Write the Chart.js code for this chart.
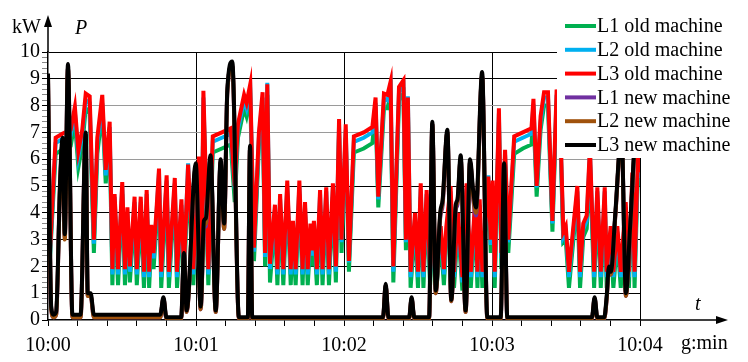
<!DOCTYPE html>
<html>
<head>
<meta charset="utf-8">
<script src="https://cdn.jsdelivr.net/npm/chart.js@4.4.0/dist/chart.umd.min.js"></script>
<style>
  body { margin: 0; background: #fff; }
  #wrap { width: 748px; height: 362px; }
</style>
</head>
<body>
<div id="wrap"><canvas id="powerChart" width="748" height="362"></canvas></div>
<script>
// time in seconds after 10:00
const oldTime = [0.8, 3.1, 5.8, 9.2, 10.9, 12.3, 13.9, 15.3, 16.9, 18.6, 20.0, 22.0, 23.4, 25.0, 26.1, 27.0, 28.4, 30.1, 31.2, 32.2,
  33.2, 35.1, 36.0, 37.6, 38.9, 40.0, 41.0, 41.9, 42.8, 43.6, 45.0, 45.9, 48.1, 49.0, 51.4, 52.3, 54.1, 55.1, 56.8, 58.9,
  61.2, 62.3, 63.0, 65.0, 66.8, 70.5, 74.1, 75.7, 77.0, 79.5, 80.5, 82.0, 83.5, 85.5, 87.0, 88.0, 88.9, 90.0, 92.0, 93.0,
  94.1, 95.4, 97.0, 98.4, 99.3, 100.4, 101.9, 103.2, 104.2, 105.3, 106.4, 107.1, 107.8, 109.0, 110.3, 111.3, 112.8, 113.9, 115.5, 116.7,
  118.0, 119.0, 120.7, 122.0, 124.0, 128.0, 131.5, 132.8, 133.9, 136.2, 137.6, 138.9, 140.0, 142.3, 144.1, 145.1, 145.9, 147.0, 148.8, 150.0,
  151.1, 152.2, 153.5, 154.9, 156.2, 157.6, 159.2, 160.5, 161.5, 163.2, 164.6, 166.2, 168.0, 169.7, 171.4, 173.1, 174.1, 175.0, 176.1, 178.5,
  179.5, 180.3, 181.1, 182.8, 183.8, 185.3, 186.6, 189.0, 192.5, 196.0, 196.8, 198.1, 199.7, 201.1, 202.7, 204.5, 206.2, 207.8, 208.9, 209.9,
  211.2, 213.0, 214.6, 215.7, 217.0, 218.4, 219.7, 221.4, 222.7, 224.1, 225.7, 226.5, 228.1, 229.2, 230.8, 232.2, 234.2, 235.5, 236.9, 237.8,
  239.2, 240];
const oldL3 = [2.5, 6.8, 6.95, 7.1, 7.95, 6.3, 7.1, 8.45, 8.35, 3.0, 6.8, 8.4, 5.6, 7.4, 1.9, 4.7, 1.9, 5.15, 1.9, 4.2,
  2.0, 4.6, 1.9, 4.6, 1.8, 4.85, 1.8, 3.55, 2.5, 3.55, 5.65, 1.8, 5.4, 1.8, 5.3, 1.8, 4.5, 1.9, 5.8, 1.9,
  6.1, 2.5, 8.55, 1.9, 6.85, 7.0, 7.15, 5.0, 7.3, 8.4, 8.1, 8.8, 2.7, 7.0, 8.5, 2.5, 8.8, 2.1, 4.3, 1.9,
  4.7, 1.9, 5.2, 1.9, 3.7, 1.9, 5.2, 1.9, 4.4, 1.9, 3.6, 2.6, 3.7, 1.9, 4.85, 1.9, 4.95, 1.9, 5.1, 2.0,
  7.5, 3.0, 7.3, 2.2, 6.85, 7.0, 7.2, 8.3, 4.6, 8.45, 8.4, 8.9, 2.0, 8.7, 8.95, 3.0, 8.3, 1.8, 4.0, 1.8,
  5.1, 1.8, 4.85, 1.9, 3.9, 1.9, 3.5, 1.9, 3.5, 5.0, 1.8, 4.0, 1.6, 5.1, 1.8, 4.35, 1.8, 4.5, 1.8, 5.35,
  3.0, 5.2, 1.8, 7.9, 2.5, 6.35, 3.0, 6.85, 7.0, 7.15, 8.25, 5.0, 7.6, 8.5, 8.5, 3.7, 8.6, 7.0, 3.3, 3.5,
  1.8, 3.5, 5.0, 1.8, 3.6, 3.9, 6.45, 1.8, 4.95, 1.8, 4.95, 1.8, 3.5, 1.8, 3.5, 1.8, 4.4, 1.8, 5.5, 1.8,
  6.2, 5.5];
const oldL2 = [2.4, 6.6, 6.75, 6.9, 7.75, 6.1, 6.9, 8.2, 8.1, 2.85, 6.6, 8.1, 5.4, 7.2, 1.7, 4.6, 1.7, 5.0, 1.7, 4.0,
  1.8, 4.4, 1.7, 4.4, 1.6, 4.7, 1.6, 3.4, 2.3, 3.4, 5.5, 1.6, 5.2, 1.6, 5.1, 1.6, 4.3, 1.7, 5.85, 1.7,
  5.9, 2.3, 8.3, 1.7, 6.65, 6.8, 6.95, 4.9, 7.1, 8.2, 7.9, 8.6, 2.55, 6.8, 8.3, 2.35, 8.85, 1.9, 4.1, 1.7,
  4.5, 1.7, 5.0, 1.7, 3.5, 1.7, 5.0, 1.7, 4.2, 1.7, 3.4, 2.4, 3.5, 1.7, 4.7, 1.7, 4.8, 1.7, 4.9, 1.8,
  7.3, 2.9, 7.1, 2.15, 6.65, 6.8, 7.0, 8.1, 4.5, 8.25, 8.2, 8.7, 1.8, 8.5, 8.75, 2.9, 8.35, 1.6, 3.8, 1.6,
  4.9, 1.6, 4.7, 1.7, 3.7, 1.7, 3.3, 1.7, 3.3, 4.8, 1.6, 3.8, 1.4, 4.9, 1.6, 4.2, 1.6, 4.3, 1.6, 5.4,
  2.8, 5.0, 1.6, 7.7, 2.3, 6.15, 2.9, 6.65, 6.8, 6.95, 8.05, 4.95, 7.4, 8.3, 8.3, 3.6, 8.4, 6.8, 3.1, 3.3,
  1.6, 3.3, 4.8, 1.6, 3.4, 3.7, 6.3, 1.6, 4.8, 1.6, 4.8, 1.6, 3.3, 1.6, 3.3, 1.6, 4.2, 1.6, 5.3, 1.6,
  6.0, 5.3];
const oldL1 = [2.3, 6.2, 6.35, 6.5, 7.4, 5.7, 6.5, 7.9, 7.7, 2.5, 6.2, 7.8, 5.1, 6.9, 1.3, 4.3, 1.3, 4.7, 1.3, 3.7,
  1.4, 4.1, 1.3, 4.1, 1.2, 4.3, 1.2, 3.0, 1.9, 3.0, 5.1, 1.2, 4.9, 1.2, 4.8, 1.2, 4.0, 1.3, 5.4, 1.3,
  5.6, 1.9, 8.0, 1.3, 6.25, 6.4, 6.55, 4.4, 6.8, 7.9, 7.6, 8.3, 2.2, 6.5, 8.0, 2.0, 8.4, 1.4, 3.8, 1.3,
  4.2, 1.3, 4.7, 1.3, 3.2, 1.3, 4.7, 1.3, 3.9, 1.3, 3.1, 2.0, 3.2, 1.3, 4.3, 1.3, 4.4, 1.3, 4.6, 1.4,
  7.0, 2.5, 6.8, 1.8, 6.25, 6.4, 6.6, 7.8, 4.2, 7.9, 7.9, 8.4, 1.4, 8.2, 8.45, 2.6, 7.9, 1.2, 3.5, 1.2,
  4.6, 1.2, 4.3, 1.3, 3.4, 1.3, 3.0, 1.3, 3.0, 4.5, 1.2, 3.5, 1.1, 4.6, 1.2, 3.9, 1.2, 4.0, 1.2, 4.9,
  2.5, 4.7, 1.2, 7.4, 1.9, 5.8, 2.5, 6.2, 6.4, 6.55, 7.7, 4.6, 7.1, 8.0, 8.0, 3.3, 8.1, 6.5, 2.9, 3.0,
  1.2, 3.0, 4.5, 1.2, 3.1, 3.4, 5.9, 1.2, 4.4, 1.2, 4.4, 1.2, 3.0, 1.2, 3.0, 1.2, 3.9, 1.2, 5.0, 1.2,
  5.7, 5.0];

const newTime = [0, 1.3, 2.3, 3.3, 4.9, 5.9, 6.8, 8.1, 9.9, 13.2, 15.3, 16.1, 17.3, 18.6, 45.5, 46.8, 48.0, 54.0, 55.1, 56.2,
  59.9, 61.9, 63.2, 64.0, 65.9, 68.0, 70.0, 71.4, 72.7, 74.7, 77.4, 81.0, 81.9, 82.8, 135.8, 136.9, 138.0, 146.4, 147.4, 148.5,
  154.5, 155.8, 157.2, 159.0, 160.0, 161.9, 163.5, 165.3, 166.0, 167.3, 169.3, 171.1, 172.4, 173.5, 176.0, 178.1, 183.5, 184.9, 186.2, 220.5,
  221.6, 222.7, 225.5, 226.5, 227.4, 228.2, 230.0, 232.5, 234.3, 236.0, 238.5, 240];
const newL3 = [9.2, 0.5, 0.2, 0.3, 5.2, 6.8, 3.2, 9.55, 0.2, 0.2, 7.0, 1.0, 1.0, 0.2, 0.2, 0.85, 0.1, 0.1, 2.5, 0.35,
  5.85, 0.5, 3.7, 3.8, 6.15, 0.35, 6.0, 3.6, 8.6, 9.65, 0.1, 0.1, 6.5, 0.1, 0.1, 1.35, 0.1, 0.1, 0.85, 0.1,
  0.1, 7.4, 1.1, 4.0, 4.5, 7.1, 0.75, 4.3, 4.5, 6.15, 0.35, 6.0, 4.8, 4.2, 9.25, 0.1, 0.1, 5.85, 0.1, 0.1,
  0.85, 0.1, 0.1, 0.9, 2.0, 1.8, 4.0, 7.0, 1.0, 3.5, 7.0, 6.5];
const newL2 = [9.1, 0.4, 0.1, 0.2, 5.0, 6.6, 3.0, 9.4, 0.1, 0.1, 6.9, 0.9, 0.9, 0.1, 0.1, 0.8, 0.05, 0.05, 2.4, 0.3,
  5.7, 0.4, 3.5, 3.6, 6.0, 0.3, 5.9, 3.4, 8.5, 9.5, 0.05, 0.05, 6.4, 0.05, 0.05, 1.3, 0.05, 0.05, 0.8, 0.05,
  0.05, 7.3, 1.0, 3.9, 4.4, 7.0, 0.7, 4.2, 4.4, 6.0, 0.3, 5.9, 4.6, 4.0, 9.1, 0.05, 0.05, 5.7, 0.05, 0.05,
  0.8, 0.05, 0.05, 0.8, 1.9, 1.7, 3.9, 6.9, 0.9, 3.4, 6.9, 6.4];
const newL1 = [9.0, 0.4, 0.1, 0.2, 5.0, 6.6, 3.1, 9.4, 0.1, 0.1, 6.9, 0.9, 0.9, 0.1, 0.1, 0.8, 0.05, 0.05, 2.4, 0.3,
  5.7, 0.4, 3.4, 3.5, 6.0, 0.3, 5.9, 3.4, 8.5, 9.5, 0.05, 0.05, 6.4, 0.05, 0.05, 1.3, 0.05, 0.05, 0.8, 0.05,
  0.05, 7.3, 1.0, 3.8, 4.3, 7.0, 0.7, 4.1, 4.3, 6.0, 0.3, 5.9, 4.5, 3.9, 9.1, 0.05, 0.05, 5.7, 0.05, 0.05,
  0.8, 0.05, 0.05, 0.8, 1.9, 1.7, 3.9, 6.9, 0.9, 3.4, 6.9, 6.4];

const seriesLabels = ['L1 old machine', 'L2 old machine', 'L3 old machine', 'L1 new machine', 'L2 new machine', 'L3 new machine'];
const seriesColors = ['#00b050', '#00b0f0', '#ff0000', '#7030a0', '#a0520c', '#000000'];

const serif = "'Liberation Serif', 'Times New Roman', serif";
Chart.defaults.font.family = serif;
Chart.defaults.font.size = 20;
Chart.defaults.color = '#000';

function pts(times, vals) {
    return times.map((t, i) => ({ x: t, y: vals[i] }));
}

const seriesData = [
    pts(oldTime, oldL1), pts(oldTime, oldL2), pts(oldTime, oldL3),
    pts(newTime, newL1), pts(newTime, newL2), pts(newTime, newL3)
];

// axis arrows, axis captions and the legend drawn over the plot
const overlay = {
    id: 'overlay',
    afterDraw(chart) {
        const c = chart.ctx;
        const ca = chart.chartArea;
        c.save();
        c.strokeStyle = '#000';
        c.fillStyle = '#000';
        c.lineWidth = 1.5;
        c.beginPath();
        c.moveTo(ca.left, ca.top);
        c.lineTo(ca.left, 24);
        c.moveTo(ca.right, ca.bottom);
        c.lineTo(718, ca.bottom);
        c.stroke();
        c.beginPath();
        c.moveTo(ca.left, 15);
        c.lineTo(ca.left - 4, 27);
        c.lineTo(ca.left + 4, 27);
        c.closePath();
        c.fill();
        c.beginPath();
        c.moveTo(728, ca.bottom);
        c.lineTo(716, ca.bottom - 4);
        c.lineTo(716, ca.bottom + 4);
        c.closePath();
        c.fill();

        c.textBaseline = 'middle';
        c.textAlign = 'left';
        c.font = '20px ' + serif;
        c.fillText('kW', 12, 28);
        c.fillText('g:min', 681, 344);
        c.font = 'italic 20px ' + serif;
        c.fillText('P', 75, 29);
        c.fillText('t', 695, 305);

        // legend
        c.fillStyle = '#fff';
        c.fillRect(557, 10, 191, 148);
        c.font = '20px ' + serif;
        chart.data.datasets.forEach((ds, i) => {
            const y = 26 + i * 23.8;
            c.strokeStyle = ds.borderColor;
            c.lineWidth = 4;
            c.beginPath();
            c.moveTo(565, y);
            c.lineTo(596, y);
            c.stroke();
            c.fillStyle = '#000';
            c.fillText(ds.label, 597, y + 1);
        });
        c.restore();
    }
};

const ctx = document.getElementById('powerChart').getContext('2d');
new Chart(ctx, {
    type: 'line',
    data: {
        datasets: seriesData.map((d, i) => ({
            label: seriesLabels[i],
            data: d,
            borderColor: seriesColors[i],
            backgroundColor: seriesColors[i],
            borderWidth: 4,
            pointRadius: 0,
            fill: false,
            order: 6 - i,
            cubicInterpolationMode: i >= 3 ? 'monotone' : 'default',
            tension: i >= 3 ? 0.4 : 0
        }))
    },
    options: {
        responsive: false,
        animation: false,
        layout: {
            padding: { top: 52, right: 108, bottom: 0, left: 0 }
        },
        plugins: {
            legend: { display: false },
            tooltip: { enabled: false }
        },
        scales: {
            x: {
                type: 'linear',
                min: 0,
                max: 240,
                afterFit: (s) => { s.height = 42; },
                border: { display: true, color: '#000', width: 1.5 },
                grid: {
                    color: (c) => (c.tick && c.tick.value > 0 && c.tick.value % 60 === 0) ? '#000' : 'rgba(0,0,0,0)',
                    tickColor: '#000',
                    tickLength: 6,
                    lineWidth: 1
                },
                ticks: {
                    stepSize: 12,
                    autoSkip: false,
                    maxRotation: 0,
                    padding: 8,
                    callback: (v) => v % 60 === 0 ? '10:0' + (v / 60) : ''
                }
            },
            y: {
                min: 0,
                max: 10,
                afterFit: (s) => { s.width = 48; },
                border: { display: true, color: '#000', width: 1.5 },
                grid: {
                    color: (c) => {
                        const v = c.tick ? c.tick.value : 0;
                        const r = Math.round(v);
                        if (Math.abs(v - r) > 1e-6 || r === 0) return 'rgba(0,0,0,0)';
                        return (r >= 6 && r <= 8) ? '#9a9a9a' : '#000';
                    },
                    tickColor: (c) => {
                        const v = c.tick ? c.tick.value : 0;
                        return Math.abs(v - Math.round(v)) < 1e-6 ? '#000' : '#888';
                    },
                    tickLength: 6,
                    lineWidth: 1
                },
                ticks: {
                    stepSize: 0.2,
                    autoSkip: false,
                    padding: 2,
                    callback: (v) => Math.abs(v - Math.round(v)) < 1e-6 ? String(Math.round(v)) : ''
                }
            }
        }
    },
    plugins: [overlay]
});
</script>
</body>
</html>
